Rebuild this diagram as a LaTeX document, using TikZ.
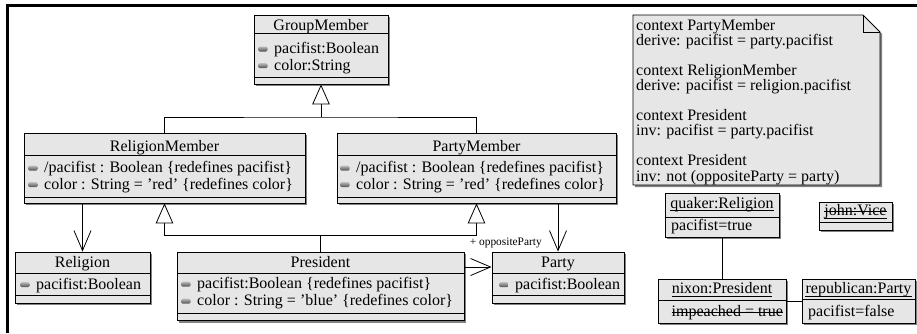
\documentclass[tikz,border=0pt]{standalone}
\usepackage{fontspec}
\setmainfont{Liberation Serif}
\usetikzlibrary{arrows.meta,shadows,fit}
\definecolor{boxfill}{RGB}{230,230,230}
\definecolor{shadowc}{RGB}{130,130,130}
\tikzset{
  cls/.style={draw, fill=boxfill, line width=0.8pt, inner sep=0pt,
    drop shadow={shadow xshift=2.2pt, shadow yshift=-2.2pt, opacity=1, fill=shadowc}},
  lbl/.style={font=\fontsize{16}{16}\selectfont, inner sep=0pt},
  smalllbl/.style={font=\fontsize{11.4}{12}\selectfont, inner sep=0pt},
  attricon/.style={rounded corners=1.5pt, minimum width=9.5pt, minimum height=5pt,
    inner sep=0pt, top color=gray!55, bottom color=black!70, draw=none},
  conn/.style={line width=0.8pt},
  gen/.style={conn, -{Triangle[open, length=20pt, width=17.5pt, fill=white, line width=0.8pt]}},
  assoc/.style={conn, -{Straight Barb[length=20pt, width=17pt, line width=0.8pt]}},
  deco/.style={line width=0.7pt}
}
\newcommand\attrline[4]{% name, icon-left x, baseline y, text
  \node[attricon, anchor=west] (#1-i) at (#2,#3-4.3) {};
  \node[lbl, anchor=base west] (#1) at (#2+16,#3) {#4};
}
\newcommand\compline[2]{% box, y
  \draw[conn] (#1.west |- 0,#2) -- (#1.east |- 0,#2);
}
\begin{document}
\begin{tikzpicture}[x=1pt,y=-1pt]
\useasboundingbox (0,0) rectangle (917,333);
% outer frame
\draw[line width=2.7pt, line join=miter] (917,5.3) -- (7.8,5.3) -- (7.8,333);

% ---------- GroupMember
\node[cls, fit={(254,15)(388,84)}] (gm) {};
\compline{gm}{33}\compline{gm}{77}
\node[lbl, anchor=base] (gm-t) at (gm.north |- 0,30.5) {GroupMember};
\attrline{gm-a1}{258}{53.3}{pacifist:Boolean}
\attrline{gm-a2}{258}{70}{color:String}

% ---------- ReligionMember
\node[cls, fit={(24,133)(305,203)}] (rm) {};
\compline{rm}{155}\compline{rm}{197}
\node[lbl, anchor=base] (rm-t) at (rm.north |- 0,151) {ReligionMember};
\attrline{rm-a1}{28}{172.5}{/pacifist : Boolean \{redefines pacifist\}}
\attrline{rm-a2}{28}{189}{color : String = 'red' \{redefines color\}}

% ---------- PartyMember
\node[cls, fit={(337,133)(616,203)}] (pm) {};
\compline{pm}{155}\compline{pm}{197}
\node[lbl, anchor=base] (pm-t) at (pm.north |- 0,151) {PartyMember};
\attrline{pm-a1}{340}{172.5}{/pacifist : Boolean \{redefines pacifist\}}
\attrline{pm-a2}{340}{189}{color : String = 'red' \{redefines color\}}

% ---------- Religion
\node[cls, fit={(15,252)(150,303)}] (rel) {};
\compline{rel}{273}\compline{rel}{295}
\node[lbl, anchor=base] (rel-t) at (rel.north |- 0,267.5) {Religion};
\attrline{rel-a1}{20}{289}{pacifist:Boolean}

% ---------- President
\node[cls, fit={(177,252)(464,320.5)}] (pres) {};
\compline{pres}{273}\compline{pres}{313}
\node[lbl, anchor=base] (pres-t) at (pres.north |- 0,267.5) {President};
\attrline{pres-a1}{181}{288.5}{pacifist:Boolean \{redefines pacifist\}}
\attrline{pres-a2}{181}{305.5}{color : String = 'blue' \{redefines color\}}

% ---------- Party
\node[cls, fit={(492,252)(624,303)}] (party) {};
\compline{party}{273}\compline{party}{295}
\node[lbl, anchor=base] (party-t) at (party.north |- 0,267.5) {Party};
\attrline{party-a1}{499}{289}{pacifist:Boolean}

% ---------- generalizations
\coordinate (j1) at (321,117);
\draw[conn] (rm.north) |- (j1) -| (pm.north);
\draw[gen] (j1) -- (gm.south);
\coordinate (j2) at (pres.north |- 0,235);
\draw[conn] (pres.north) -- (j2);
\draw[gen] (j2) -| (rm.south);
\draw[gen] (j2) -| (pm.south);

% ---------- associations
\draw[assoc] (rm.south -| rel.north) -- (rel.north);
\draw[assoc] (pm.south -| party.north) -- (party.north);
\draw[assoc] (pres.east |- 0,267) -- (party.west |- 0,267);
\node[smalllbl, anchor=base east] (opp) at (542,245) {+ oppositeParty};

% ---------- note
\path[fill=boxfill, draw, line width=0.8pt,
  drop shadow={shadow xshift=2.2pt, shadow yshift=-2.2pt, opacity=1, fill=shadowc}]
  (633,15) -- (863,15) -- (880,32) -- (880,185) -- (633,185) -- cycle;
\draw[conn] (863,15) -- (863,32) -- (880,32);
\node[lbl, anchor=base west] (n1) at (636,30) {context PartyMember};
\node[lbl, anchor=base west] (n2) at (636,45.6) {derive: pacifist = party.pacifist};
\node[lbl, anchor=base west] (n3) at (636,75) {context ReligionMember};
\node[lbl, anchor=base west] (n4) at (636,90.6) {derive: pacifist = religion.pacifist};
\node[lbl, anchor=base west] (n5) at (636,120.3) {context President};
\node[lbl, anchor=base west] (n6) at (636,135.9) {inv: pacifist = party.pacifist};
\node[lbl, anchor=base west] (n7) at (636,165.5) {context President};
\node[lbl, anchor=base west] (n8) at (636,181) {inv: not (oppositeParty = party)};

% ---------- objects
\node[cls, fit={(665,193)(779,237)}] (quaker) {};
\compline{quaker}{217}
\node[lbl, anchor=base] (quaker-t) at (quaker.north |- 0,208) {quaker:Religion};
\draw[deco] ([yshift=-2.6pt]quaker-t.base west) -- ([yshift=-2.6pt]quaker-t.base east);
\node[lbl, anchor=base west] (quaker-a) at (671,230) {pacifist=true};

\node[cls, fit={(819,202)(892,230)}] (john) {};
\compline{john}{222}
\node[lbl, anchor=base] (john-t) at (john.north |- 0,215.5) {john:Vice};
\draw[deco] ([yshift=-2.6pt]john-t.base west) -- ([yshift=-2.6pt]john-t.base east);
\draw[deco] ([yshift=3.8pt]john-t.base west) -- ([yshift=3.8pt]john-t.base east);

\node[cls, fit={(658,279)(786,323)}] (nixon) {};
\compline{nixon}{300}
\node[lbl, anchor=base] (nixon-t) at (nixon.north |- 0,293.5) {nixon:President};
\draw[deco] ([yshift=-2.6pt]nixon-t.base west) -- ([yshift=-2.6pt]nixon-t.base east);
\node[lbl, anchor=base west] (nixon-a) at (671.5,316.5) {impeached = true};
\draw[deco] ([yshift=3.8pt]nixon-a.base west) -- ([yshift=3.8pt]nixon-a.base east);

\node[cls, fit={(802,279)(915,323)}] (rep) {};
\compline{rep}{299}
\node[lbl, anchor=base] (rep-t) at (rep.north |- 0,293.5) {republican:Party};
\draw[deco] ([yshift=-2.6pt]rep-t.base west) -- ([yshift=-2.6pt]rep-t.base east);
\node[lbl, anchor=base west] (rep-a) at (808,316.5) {pacifist=false};

\draw[conn] (quaker.south) -- (nixon.north);
\draw[conn] (nixon.east) -- (rep.west);
\end{tikzpicture}
\end{document}
